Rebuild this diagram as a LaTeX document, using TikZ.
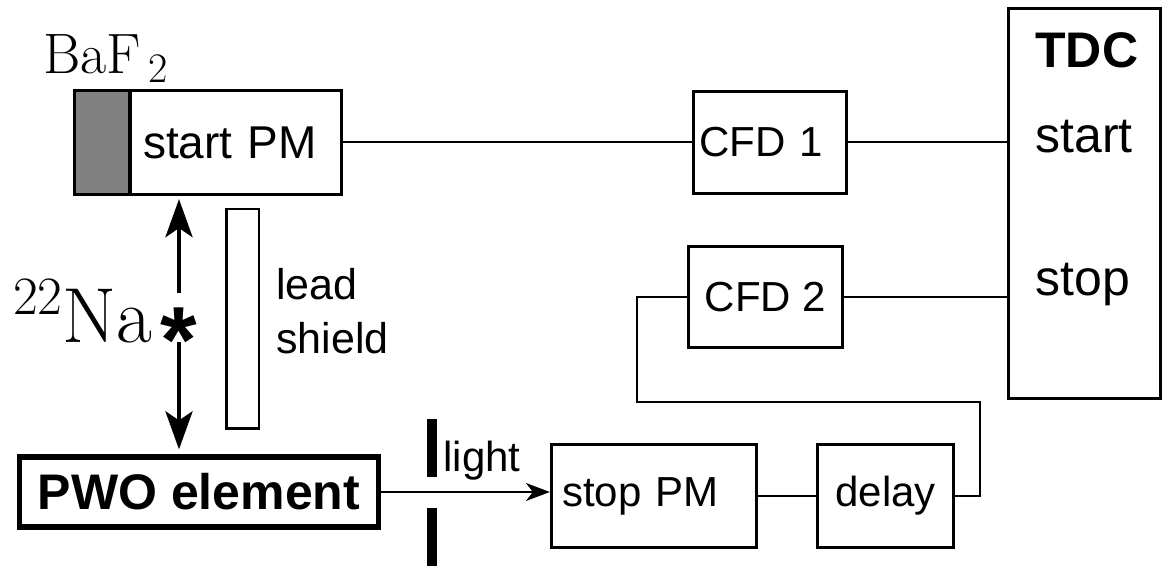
\documentclass[tikz,border=0pt]{standalone}
\usepackage{fontspec}
\setsansfont{Liberation Sans}
\usetikzlibrary{arrows.meta,positioning,calc}

\tikzset{
  box/.style={draw, line width=1.6pt, inner sep=0pt, font=\sffamily\fontsize{21}{25}\selectfont},
  lbox/.style={box, align=left},
  wire/.style={line width=1pt},
  beam/.style={line width=2.2pt, -{Stealth[length=19pt,width=13.5pt,inset=4.5pt]}},
  tdctxt/.style={anchor=base west, inner sep=0pt, font=\sffamily\fontsize{25}{30}\selectfont},
}

\begin{document}
\begin{tikzpicture}[x=0.5pt, y=-0.5pt]
\useasboundingbox (0,0) rectangle (1164,566);
% start side: BaF2 crystal on the start PM
\node[box, fill=gray, minimum width=27.75pt, minimum height=52pt] (baf) at (102.25,142.5) {};
\node[lbox, inner xsep=6.5pt, text width=92.75pt, minimum height=52pt,
      font=\sffamily\fontsize{23}{28}\selectfont] (startpm) at (235.75,142.5) {start PM};
\node[anchor=base west, inner sep=0pt, font=\fontsize{28.5}{34}\selectfont] (baflabel) at (43,74)
  {BaF\hspace{3.5pt}\raisebox{-4.5pt}{\fontsize{21}{22}\selectfont 2}};
% source and lead shield
\node[inner sep=5pt, font=\sffamily\bfseries\fontsize{47}{56}\selectfont] (star) at (179,318)
  {\raisebox{-0.575em}[0.15em][0.15em]{*}};
\node[anchor=base east, inner sep=0pt, font=\fontsize{39}{47}\selectfont] (na) at (153,343)
  {\raisebox{14pt}{\fontsize{27}{30}\selectfont 22}Na};
\draw[beam, shorten >=1.5pt] (star.north) -- (star.north |- startpm.south);
\node[draw, line width=1.25pt, minimum width=16.25pt, minimum height=109.75pt, inner sep=0pt] (shield) at (242.5,319) {};
\node[anchor=north west, inner sep=0pt, align=left, font=\sffamily\fontsize{21.5}{27}\selectfont] (leadtxt) at (276,268) {lead\\shield};
% stop side
\node[box, line width=2.8pt, minimum width=179.5pt, minimum height=35pt,
      font=\sffamily\bfseries\fontsize{25}{30}\selectfont] (pwo) at (199,492) {PWO element};
\draw[beam, shorten >=2.4pt] (star.south) -- (star.south |- pwo.north);
\node[lbox, inner xsep=5.25pt, text width=92pt, minimum height=51.5pt] (stoppm) at (654,496) {stop PM};
\node[box, minimum width=68pt, minimum height=51.5pt] (delay) at (885.5,496) {delay};
\draw[wire, -{Stealth[length=12pt,width=9pt,inset=3.5pt]}] (pwo.east) -- (pwo.east -| stoppm.west);
\draw[line width=5pt] (432,419) -- (432,477);
\draw[line width=5pt] (432,508) -- (432,566);
\node[anchor=base west, inner sep=0pt, font=\sffamily\fontsize{21}{25}\selectfont] (lighttxt) at (443,472) {light};
% discriminators and TDC
\node[lbox, inner xsep=3pt, text width=70.5pt, minimum height=51pt] (cfdone) at (770,142.5) {CFD 1};
\node[box, minimum width=77pt, minimum height=50.5pt] (cfdtwo) at (765.5,297) {CFD 2};
\node[box, minimum width=76pt, minimum height=195pt] (tdc) at (1084.5,203.5) {};
\node[tdctxt, font=\sffamily\bfseries\fontsize{25}{30}\selectfont] (tdctitle) at (1035,68) {TDC};
\node[tdctxt] (tdcstart) at (1035,153) {start};
\node[tdctxt] (tdcstop) at (1035,296) {stop};
\draw[wire] (startpm.east) -- (cfdone.west);
\draw[wire] (cfdone.east) -- (cfdone.east -| tdc.west);
\draw[wire] (cfdtwo.east) -- (cfdtwo.east -| tdc.west);
\draw[wire] (stoppm.east) -- (delay.west);
\coordinate (loopc) at (980,402);
\draw[wire] (cfdtwo.west) -- ++(-50,0) |- (loopc) |- (delay.east);
\end{tikzpicture}
\end{document}
